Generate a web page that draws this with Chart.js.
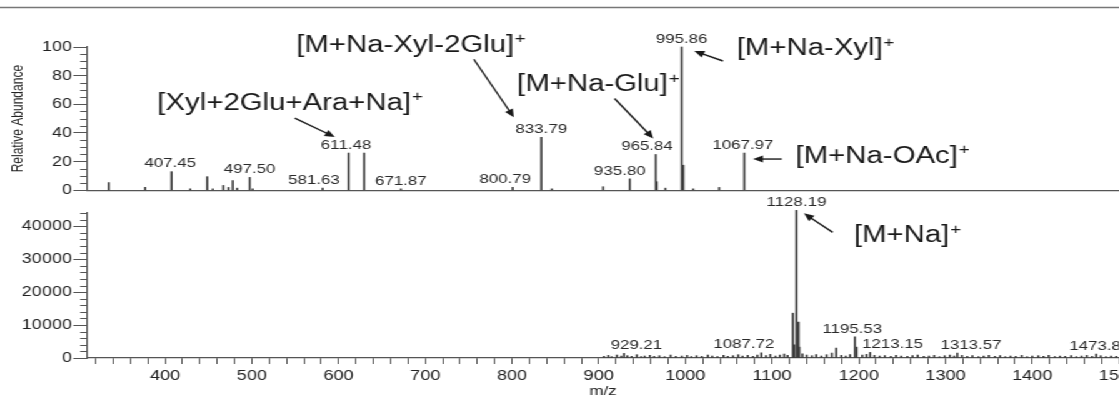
<!DOCTYPE html>
<html lang="en">
<head>
    <meta charset="UTF-8">
    <title>ESI-MS spectra</title>
    <script src="https://cdn.jsdelivr.net/npm/chart.js"></script>
    <style>
        html, body { margin: 0; padding: 0; background: #fff; overflow: hidden; }
        #frame { position: relative; width: 1119px; height: 401px; overflow: hidden; }
        /* the original figure is stretched sideways, so draw narrow and widen */
        #stretch { position: absolute; left: 0; top: 0; width: 930px; height: 401px;
                   transform: scaleX(1.25); transform-origin: 0 0; }
        #topChart { position: absolute; left: 0; top: 0; }
        #botChart { position: absolute; left: 0; top: 196px; }
    </style>
</head>
<body>
    <div id="frame">
        <div id="stretch">
            <canvas id="topChart" width="930" height="200"></canvas>
            <canvas id="botChart" width="930" height="205"></canvas>
        </div>
    </div>

    <script>
        // MS/MS spectrum (relative abundance)
        const topMz  = [335, 377, 407.45, 429, 448.5, 455, 467, 473, 478, 483, 497.5, 501, 581.63, 611.48, 629.5,
                        671.87, 800.79, 833.79, 846, 905, 935.8, 965.84, 967, 977, 995.86, 997.6, 1009, 1039, 1067.97];
        const topInt = [5.4, 2, 13, 1, 9.5, 1, 3.4, 2, 6.8, 1.5, 9, 1, 1.5, 26, 26,
                        1, 2, 37, 1, 2.5, 8, 25, 6, 1.5, 100, 17.5, 1, 2, 26];

        // full MS spectrum (absolute intensity)
        const botMz  = [929.21, 1087.72, 1124, 1125.5, 1128.19, 1130.5, 1131.5, 1163, 1169, 1174, 1195.53, 1197.5,
                        1213.15, 1313.57, 1473.8];
        const botInt = [1400, 1600, 13600, 4000, 44800, 10900, 3300, 1000, 1500, 3000, 6400, 3300,
                        1700, 1500, 1200];

        // baseline noise of the full MS spectrum
        const noiseMz  = [906, 911, 915, 921, 926, 933, 938, 944, 949, 953, 959, 964, 970, 976, 983, 989, 996, 1002,
                          1007, 1013, 1019, 1026, 1031, 1037, 1044, 1049, 1055, 1061, 1066, 1072, 1078, 1083, 1093,
                          1098, 1104, 1109, 1114, 1118, 1135, 1140, 1146, 1151, 1157, 1180, 1185, 1190, 1204, 1209,
                          1218, 1224, 1230, 1237, 1243, 1249, 1256, 1262, 1268, 1275, 1281, 1287, 1293, 1299, 1305,
                          1310, 1319, 1325, 1331, 1338, 1344, 1350, 1357, 1363, 1369, 1375, 1381, 1388, 1394, 1400,
                          1407, 1413, 1419, 1426, 1432, 1438, 1445, 1451, 1457, 1463, 1469, 1479, 1485, 1491, 1497];
        const noiseInt = [500, 800, 400, 900, 600, 700, 500, 1000, 400, 600, 800, 500, 700, 400, 900, 500, 600, 800,
                          400, 700, 500, 900, 600, 400, 800, 500, 700, 1000, 600, 800, 500, 900, 700,
                          1100, 600, 900, 1200, 800, 1300, 900, 700, 1000, 600, 800, 600, 1000, 900, 1100,
                          800, 600, 700, 500, 800, 600, 500, 700, 900, 500, 600, 800, 400, 700, 900,
                          600, 800, 500, 700, 400, 600, 800, 500, 700, 400, 600, 500, 800, 400, 600,
                          700, 500, 800, 400, 600, 500, 700, 400, 600, 800, 500, 700, 400, 600, 500];

        // peak labels and ion assignments
        const topPeakLabels = ['407.45', '497.50', '581.63', '611.48', '671.87', '800.79', '833.79',
                               '935.80', '965.84', '995.86', '1067.97'];
        const botPeakLabels = ['929.21', '1087.72', '1128.19', '1195.53', '1213.15', '1313.57', '1473.8'];
        const topIons   = ['[Xyl+2Glu+Ara+Na]', '[M+Na-Xyl-2Glu]', '[M+Na-Glu]', '[M+Na-Xyl]', '[M+Na-OAc]'];
        const topIonMz  = [611.48, 833.79, 965.84, 995.86, 1067.97];
        const botIons   = ['[M+Na]'];
        const botIonMz  = [1128.19];

        // x range
        const mzMin = 310, mzMax = 1500;

        // placement of text and arrows relative to the peak top (canvas px)
        const labelNudge = { '407.45': -1, '581.63': -7, '611.48': -2, '800.79': -6, '935.80': -8, '965.84': -7,
                             '1067.97': -1, '929.21': 10, '1087.72': -14, '1195.53': -2, '1213.15': 18,
                             '1313.57': 11, '1473.8': -1 };
        const ionLayout = {
            '[Xyl+2Glu+Ara+Na]': { tip: [-11, -16], tail: [-43, -35], text: [-153, -50] },
            '[M+Na-Xyl-2Glu]':   { tip: [-22, -20], tail: [-54, -78], text: [-196, -92] },
            '[M+Na-Glu]':        { tip: [-2, -16],  tail: [-33, -56], text: [-111, -70] },
            '[M+Na-Xyl]':        { tip: [10, 4],    tail: [33, 14],   text: [44, 2] },
            '[M+Na-OAc]':        { tip: [7, 6],     tail: [30, 6],    text: [41, 3] },
            '[M+Na]':            { tip: [6, 3],     tail: [29, 22],   text: [46, 25] }
        };

        const FONT = "'Liberation Sans', Arial, sans-serif";
        const AXIS = '#555';
        Chart.defaults.font.family = FONT;
        Chart.defaults.color = '#222';

        function arrow(ctx, x0, y0, x1, y1) {
            const a = Math.atan2(y1 - y0, x1 - x0);
            ctx.beginPath();
            ctx.moveTo(x0, y0);
            ctx.lineTo(x1 - 6 * Math.cos(a), y1 - 6 * Math.sin(a));
            ctx.stroke();
            ctx.beginPath();
            ctx.moveTo(x1, y1);
            ctx.lineTo(x1 - 8 * Math.cos(a) + 3.5 * Math.sin(a), y1 - 8 * Math.sin(a) - 3.5 * Math.cos(a));
            ctx.lineTo(x1 - 8 * Math.cos(a) - 3.5 * Math.sin(a), y1 - 8 * Math.sin(a) + 3.5 * Math.cos(a));
            ctx.closePath();
            ctx.fill();
        }

        function notesPlugin(mz, inten, labels, ions, ionMz, major) {
            return {
                id: 'notes',
                afterDraw(chart) {
                    const { ctx, scales: { x, y } } = chart;
                    ctx.save();

                    // short minor ticks on the y axis
                    ctx.strokeStyle = AXIS;
                    ctx.lineWidth = 1;
                    y.ticks.forEach(t => {
                        if (t.value % major === 0) return;
                        const py = Math.round(y.getPixelForValue(t.value)) + 0.5;
                        ctx.beginPath();
                        ctx.moveTo(y.right - 5.5, py);
                        ctx.lineTo(y.right, py);
                        ctx.stroke();
                    });

                    // peak labels
                    ctx.font = '13.5px ' + FONT;
                    ctx.fillStyle = '#2a2a2a';
                    ctx.textAlign = 'center';
                    ctx.textBaseline = 'middle';
                    labels.forEach(t => {
                        const m = parseFloat(t);
                        const i = mz.indexOf(m);
                        const px = x.getPixelForValue(m) + (labelNudge[t] || 0);
                        const py = y.getPixelForValue(inten[i]) - 8;
                        ctx.fillText(t, px, py);
                    });

                    // ion assignments with arrows
                    ctx.fillStyle = '#1a1a1a';
                    ctx.strokeStyle = '#1a1a1a';
                    ctx.lineWidth = 1.4;
                    ions.forEach((t, k) => {
                        const m = ionMz[k];
                        const px = x.getPixelForValue(m);
                        const py = y.getPixelForValue(inten[mz.indexOf(m)]);
                        const L = ionLayout[t];
                        arrow(ctx, px + L.tail[0], py + L.tail[1], px + L.tip[0], py + L.tip[1]);
                        ctx.textAlign = 'left';
                        ctx.font = '23.5px ' + FONT;
                        const tx = px + L.text[0], ty = py + L.text[1];
                        ctx.fillText(t, tx, ty);
                        const w = ctx.measureText(t).width;
                        ctx.font = '15px ' + FONT;
                        ctx.fillText('+', tx + w + 0.5, ty - 6);
                    });
                    ctx.restore();
                }
            };
        }

        const framePlugin = {
            id: 'frame',
            afterDraw(chart) {
                const ctx = chart.ctx;
                ctx.save();
                ctx.strokeStyle = '#777';
                ctx.lineWidth = 1.3;
                ctx.beginPath();
                ctx.moveTo(0, 7.5);
                ctx.lineTo(chart.width, 7.5);
                ctx.stroke();
                ctx.restore();
            }
        };

        function yScale(max, step, major, title) {
            return {
                min: 0,
                max: max,
                afterFit: s => { s.width = 69.6; },
                border: { color: AXIS, width: 1.2 },
                grid: {
                    drawOnChartArea: false,
                    tickLength: 11,
                    tickColor: c => (c.tick && c.tick.value % major === 0) ? AXIS : 'rgba(0,0,0,0)'
                },
                ticks: {
                    stepSize: step,
                    autoSkip: false,
                    padding: 1,
                    font: { size: 14.5 },
                    callback: v => (v % major === 0 ? v : '')
                },
                title: title ? {
                    display: true,
                    text: title,
                    font: { size: 12 },
                    padding: { top: 7, bottom: 0 }
                } : { display: false }
            };
        }

        const common = {
            responsive: false,
            animation: false,
            devicePixelRatio: 1,
            plugins: { legend: { display: false }, tooltip: { enabled: false } }
        };

        function dataset(mz, inten) {
            return {
                data: mz.map((m, i) => ({ x: m, y: inten[i] })),
                backgroundColor: '#3a3a3a',
                borderWidth: 0,
                barThickness: 1,
                grouped: false,
                clip: false
            };
        }

        new Chart(document.getElementById('topChart'), {
            type: 'bar',
            data: { datasets: [dataset(topMz, topInt)] },
            options: Object.assign({}, common, {
                layout: { padding: { top: 47, right: 34.8, bottom: 5, left: 0 } },
                scales: {
                    x: {
                        type: 'linear',
                        offset: false,
                        min: mzMin,
                        max: mzMax,
                        afterFit: s => { s.height = 0; },
                        border: { color: AXIS, width: 1.2 },
                        grid: { display: false },
                        ticks: { display: false }
                    },
                    y: yScale(100, 5, 20, 'Relative Abundance')
                }
            }),
            plugins: [framePlugin, notesPlugin(topMz, topInt, topPeakLabels, topIons, topIonMz, 20)]
        });

        const allMz = botMz.concat(noiseMz);
        const allInt = botInt.concat(noiseInt);

        new Chart(document.getElementById('botChart'), {
            type: 'bar',
            data: { datasets: [dataset(allMz, allInt)] },
            options: Object.assign({}, common, {
                layout: { padding: { top: 17, right: 34.8, bottom: 0, left: 0 } },
                scales: {
                    x: {
                        type: 'linear',
                        offset: false,
                        min: mzMin,
                        max: mzMax,
                        afterFit: s => { s.height = 43; },
                        border: { color: AXIS, width: 1.2 },
                        grid: { drawOnChartArea: false, offset: false, tickLength: 6, tickColor: AXIS },
                        ticks: {
                            stepSize: 20,
                            includeBounds: false,
                            autoSkip: false,
                            maxRotation: 0,
                            padding: 3,
                            font: { size: 14.5 },
                            callback: v => (Math.round(v) % 100 === 0 ? Math.round(v) : '')
                        },
                        title: {
                            display: true,
                            text: 'm/z',
                            font: { size: 13.5 },
                            padding: { top: 0, bottom: 2 }
                        }
                    },
                    y: yScale(44000, 2000, 10000, null)
                }
            }),
            plugins: [notesPlugin(allMz, allInt, botPeakLabels, botIons, botIonMz, 10000)]
        });
    </script>
</body>
</html>
